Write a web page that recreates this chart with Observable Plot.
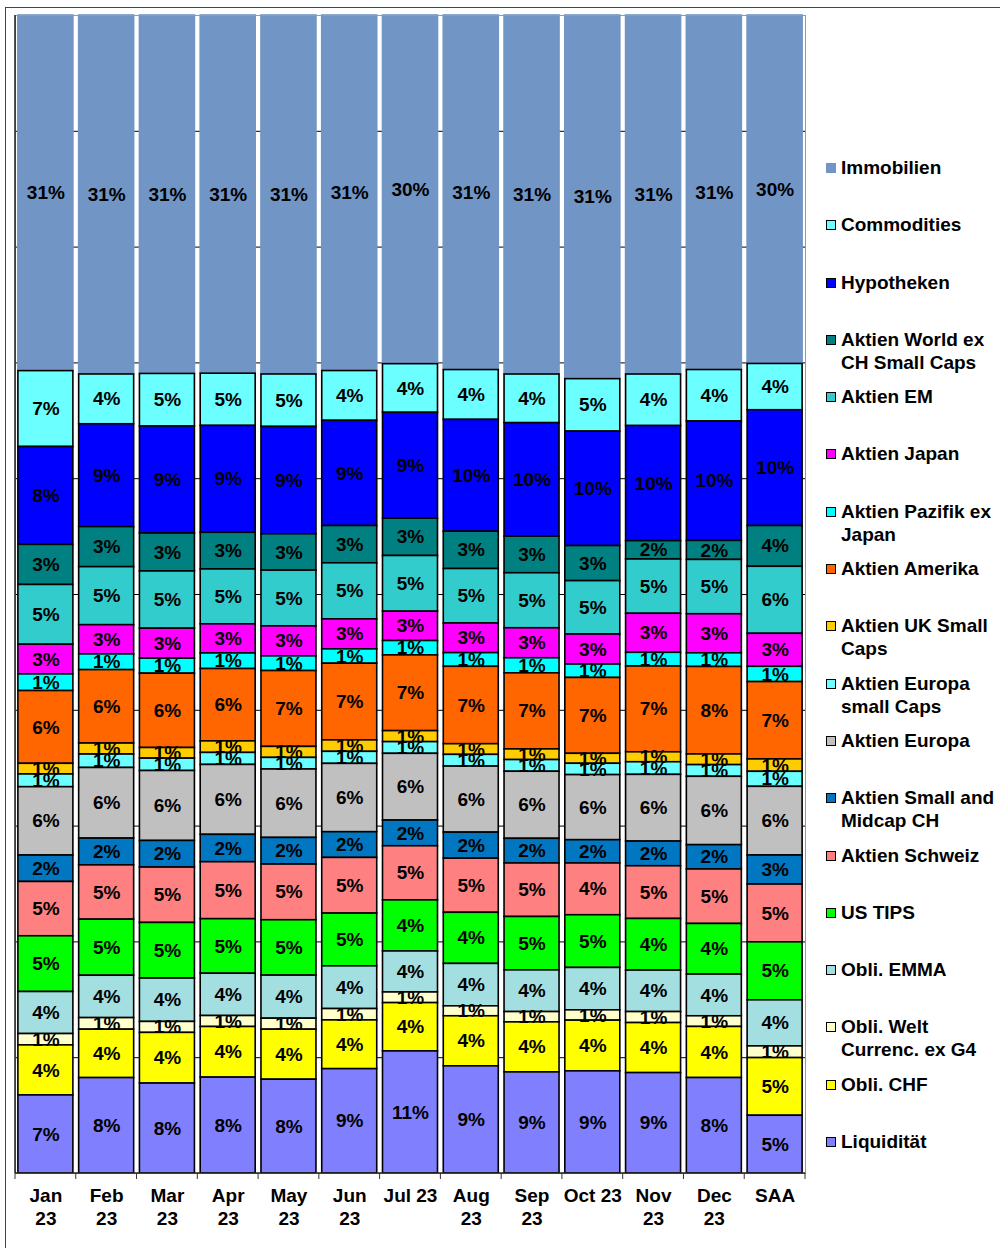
<!DOCTYPE html>
<html>
<head>
<meta charset="utf-8">
<script src="https://cdn.jsdelivr.net/npm/d3@7"></script>
<script src="https://cdn.jsdelivr.net/npm/@observablehq/plot@0.6"></script>
<style>
  body { margin: 0; background: #fff; font-family: "Liberation Sans", Arial, sans-serif; }
  #wrap { position: relative; width: 1000px; height: 1248px; overflow: hidden; background: #fff; }
  #wrap svg { display: block; }
  #frame { position: absolute; left: 5px; top: 7px; width: 1000px; height: 1260px;
           border-top: 1px solid #444; border-left: 1px solid #444; pointer-events: none; }
  .item { position: absolute; left: 826px; width: 174px; }
  .sw { position: absolute; left: 0; top: 7px; width: 8px; height: 8px; border: 1px solid #000; }
  .lab { position: absolute; left: 15px; width: 159px; font-weight: bold; font-size: 19px;
         line-height: 23px; color: #000; white-space: normal; }
</style>
</head>
<body>
<div id="wrap"></div>
<script>
// ---------- DATA ----------
const months = ["Jan 23","Feb 23","Mar 23","Apr 23","May 23","Jun 23","Jul 23","Aug 23","Sep 23","Oct 23","Nov 23","Dec 23","SAA"];
const tickLabels = ["Jan\n23","Feb\n23","Mar\n23","Apr\n23","May\n23","Jun\n23","Jul 23","Aug\n23","Sep\n23","Oct 23","Nov\n23","Dec\n23","SAA"];

// series in legend order (top of stack first)
const seriesNames = [
  "Immobilien",
  "Commodities",
  "Hypotheken",
  "Aktien World ex CH Small Caps",
  "Aktien EM",
  "Aktien Japan",
  "Aktien Pazifik ex Japan",
  "Aktien Amerika",
  "Aktien UK Small Caps",
  "Aktien Europa small Caps",
  "Aktien Europa",
  "Aktien Small and Midcap CH",
  "Aktien Schweiz",
  "US TIPS",
  "Obli. EMMA",
  "Obli. Welt Currenc. ex G4",
  "Obli. CHF",
  "Liquidität"
];

// values in % (Jan 23 ... Dec 23, SAA)
const immobilien   = [30.7, 31.0, 31.0, 31.0, 31.0, 30.7, 30.1, 30.6, 31.0, 31.4, 31.0, 30.6, 30.1];
const commodities  = [6.55, 4.3, 4.55, 4.52, 4.53, 4.3, 4.2, 4.3, 4.2, 4.53, 4.45, 4.44, 4.0];
const hypotheken   = [8.45, 8.88, 9.25, 9.25, 9.27, 9.08, 9.14, 9.65, 9.8, 9.88, 9.94, 10.31, 10.0];
const worldSmall   = [3.46, 3.46, 3.28, 3.17, 3.14, 3.22, 3.22, 3.22, 3.16, 3.03, 1.58, 1.64, 3.52];
const aktienEM     = [5.16, 5.01, 4.95, 4.75, 4.81, 4.84, 4.81, 4.7, 4.75, 4.61, 4.69, 4.69, 5.79];
const japan        = [2.56, 2.52, 2.59, 2.52, 2.59, 2.59, 2.53, 2.56, 2.59, 2.59, 3.37, 3.37, 2.85];
const pazifik      = [1.44, 1.36, 1.3, 1.35, 1.27, 1.24, 1.24, 1.18, 1.3, 1.16, 1.18, 1.18, 1.32];
const amerika      = [6.28, 6.34, 6.43, 6.26, 6.55, 6.62, 6.54, 6.68, 6.57, 6.55, 7.41, 7.55, 6.68];
const ukSmall      = [0.92, 0.95, 0.92, 1.0, 0.95, 0.99, 0.95, 0.92, 0.92, 0.86, 0.86, 0.92, 1.07];
const europaSmall  = [1.1, 1.16, 1.07, 1.04, 1.0, 1.04, 1.01, 1.01, 1.01, 0.98, 1.09, 1.01, 1.3];
const europa       = [5.9, 6.1, 6.05, 6.05, 5.91, 5.9, 5.76, 5.7, 5.79, 5.62, 5.76, 5.9, 5.93];
const smallMidCH   = [2.28, 2.31, 2.3, 2.37, 2.3, 2.22, 2.22, 2.25, 2.13, 2.01, 2.13, 2.1, 2.51];
const schweiz      = [4.69, 4.69, 4.79, 4.93, 4.81, 4.81, 4.67, 4.67, 4.62, 4.47, 4.55, 4.7, 4.99];
const usTips       = [4.81, 4.84, 4.81, 4.72, 4.78, 4.55, 4.41, 4.41, 4.61, 4.55, 4.46, 4.37, 5.01];
const emma         = [3.63, 3.66, 3.75, 3.66, 3.72, 3.69, 3.54, 3.66, 3.6, 3.66, 3.58, 3.6, 3.98];
const weltG4       = [0.98, 1.0, 0.95, 0.95, 0.95, 0.98, 0.92, 0.86, 0.89, 0.89, 0.95, 0.92, 1.01];
const obliCHF      = [4.32, 4.18, 4.38, 4.38, 4.32, 4.21, 4.17, 4.32, 4.32, 4.38, 4.32, 4.41, 4.98];
const liquiditaet  = [6.74, 8.24, 7.78, 8.3, 8.1, 9.01, 10.54, 9.25, 8.73, 8.82, 8.67, 8.24, 4.99];

const seriesValues = [immobilien, commodities, hypotheken, worldSmall, aktienEM, japan, pazifik, amerika,
  ukSmall, europaSmall, europa, smallMidCH, schweiz, usTips, emma, weltG4, obliCHF, liquiditaet];

const gridTicks = [0.1, 0.2, 0.3, 0.4, 0.5, 0.6, 0.7, 0.8, 0.9];

// ---------- STYLES ----------
const seriesColors = [
  "#7195C5", "#6CFFFF", "#0000FF", "#008080", "#33CCCC", "#FF00FF", "#00FFFF", "#FF6600",
  "#FFCC00", "#6CFFFF", "#C0C0C0", "#0077C0", "#FF8080", "#00FF00", "#A3DFE0", "#FFFFCC",
  "#FFFF00", "#8080FF"
];
const colorOf = new Map(seriesNames.map((s, i) => [s, seriesColors[i]]));

// table
const data = [];
seriesNames.forEach((s, si) => {
  months.forEach((m, mi) => data.push({series: s, month: m, value: seriesValues[si][mi]}));
});
const stackOrder = seriesNames.slice().reverse(); // bottom first

const FONT = "Liberation Sans, Arial, Helvetica, sans-serif";

function axesLines(index, scales, values, dimensions) {
  const {width, height, marginLeft, marginRight, marginTop, marginBottom} = dimensions;
  const ns = "http://www.w3.org/2000/svg";
  const g = document.createElementNS(ns, "g");
  const x0 = marginLeft, x1 = width - marginRight, yb = height - marginBottom;
  const step = (x1 - x0) / months.length;
  const add = (ax, ay, bx, by, col, w) => {
    const l = document.createElementNS(ns, "line");
    l.setAttribute("x1", ax); l.setAttribute("y1", ay);
    l.setAttribute("x2", bx); l.setAttribute("y2", by);
    l.setAttribute("stroke", col); l.setAttribute("stroke-width", w);
    g.appendChild(l);
  };
  add(x0, marginTop, x0, yb, "#222", 1.5);
  add(x0, yb, x1, yb, "#222", 1.5);
  for (let i = 0; i <= months.length; i++) {
    const xx = x0 + i * step;
    add(xx, yb, xx, yb + 6, "#333", 1);
  }
  return g;
}

const chart = Plot.plot({
  width: 1000,
  height: 1248,
  marginLeft: 15,
  marginRight: 195,
  marginTop: 15,
  marginBottom: 75,
  style: {fontFamily: FONT, background: "white", color: "black"},
  x: {domain: months, paddingInner: 0.095, paddingOuter: 0.0475, round: false},
  y: {domain: [0, 1], axis: null},
  color: {type: "identity"},
  marks: [
    Plot.ruleY(gridTicks, {y: d => d, stroke: "black", strokeWidth: 1}),
    Plot.barY(data, Plot.stackY({offset: "normalize", order: stackOrder}, {
      x: "month", y: "value", z: "series",
      fill: d => colorOf.get(d.series),
      stroke: d => d.series === "Immobilien" ? colorOf.get(d.series) : "black",
      strokeWidth: 1.6
    })),
    Plot.text(data, Plot.stackY({offset: "normalize", order: stackOrder}, {
      x: "month", y: "value", z: "series",
      text: d => Math.round(d.value) + "%",
      fill: "black", fontSize: 19, fontWeight: "bold", fontFamily: FONT
    })),
    Plot.frame({stroke: "#999", strokeWidth: 1}),
    axesLines,
    Plot.axisX({
      tickSize: 0, tickPadding: 13, label: null,
      tickFormat: d => tickLabels[months.indexOf(d)],
      fontSize: 19, fontWeight: "bold", fontFamily: FONT, lineHeight: 1.18, fill: "black"
    })
  ]
});

const wrap = document.getElementById("wrap");
wrap.appendChild(chart);

const frame = document.createElement("div");
frame.id = "frame";
wrap.appendChild(frame);

// legend
seriesNames.forEach((s, i) => {
  const item = document.createElement("div");
  item.className = "item";
  item.style.top = (155.9 + 57.3 * i) + "px";
  const sw = document.createElement("div");
  sw.className = "sw";
  sw.style.background = colorOf.get(s);
  if (s === "Immobilien") sw.style.borderColor = colorOf.get(s);
  const lab = document.createElement("div");
  lab.className = "lab";
  lab.textContent = s;
  item.appendChild(sw);
  item.appendChild(lab);
  wrap.appendChild(item);
});
</script>
</body>
</html>
